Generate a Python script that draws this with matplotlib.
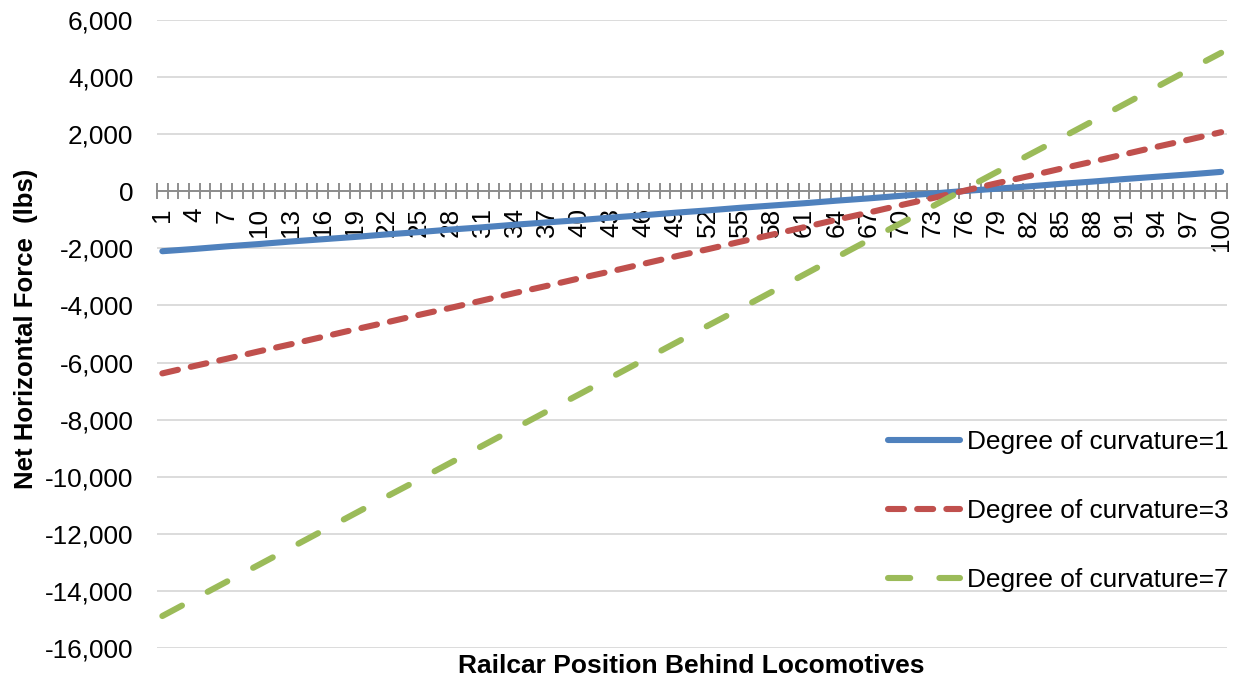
import numpy as np
import matplotlib.pyplot as plt
from matplotlib.ticker import FuncFormatter

plt.rcParams['font.family'] = ['Liberation Sans', 'DejaVu Sans']
plt.rcParams['lines.scale_dashes'] = False

# railcar positions read at every labelled category (1, 4, 7, ... 100)
positions = [1, 4, 7, 10, 13, 16, 19, 22, 25, 28, 31, 34, 37, 40, 43, 46, 49,
             52, 55, 58, 61, 64, 67, 70, 73, 76, 79, 82, 85, 88, 91, 94, 97, 100]
curv1 = [-2100, -2020, -1930, -1850, -1760, -1680, -1600, -1510, -1430, -1340,
         -1260, -1170, -1090, -1010, -920, -840, -750, -670, -580, -500,
         -420, -330, -250, -160, -80, 10, 90, 170, 260, 340, 430, 510, 590, 680]
curv3 = [-6380, -6120, -5870, -5610, -5360, -5100, -4840, -4590, -4330, -4080,
         -3820, -3560, -3310, -3050, -2800, -2540, -2280, -2030, -1770, -1520,
         -1260, -1000, -750, -490, -240, 20, 280, 530, 790, 1040, 1300, 1560,
         1810, 2070]
curv7 = [-14880, -14280, -13680, -13090, -12490, -11890, -11290, -10690, -10100,
         -9500, -8900, -8300, -7700, -7110, -6510, -5910, -5310, -4710, -4120,
         -3520, -2920, -2320, -1720, -1130, -530, 70, 670, 1270, 1860, 2460,
         3060, 3660, 4260, 4850]
n_cars = 100

fig = plt.figure(figsize=(12.44, 6.81), dpi=100)
ax = fig.add_axes([157 / 1244, 1 - 648 / 681, 1069.5 / 1244, 628 / 681])

ax.plot(positions, curv1, color='#4F81BD', lw=4.4, solid_capstyle='round',
        label='Degree of curvature=1', zorder=3)
ax.plot(positions, curv3, color='#C0504D', lw=4.4, dash_capstyle='round',
        dashes=(11.5, 9.5), label='Degree of curvature=3', zorder=3)
ax.plot(positions, curv7, color='#9BBB59', lw=4.4, dash_capstyle='round',
        dashes=(16, 21), label='Degree of curvature=7', zorder=3)

ax.set_xlim(0.5, n_cars + 0.5)
ax.set_ylim(-16000, 6000)
ax.set_yticks(np.arange(-16000, 6001, 2000))
ax.yaxis.set_major_formatter(FuncFormatter(lambda v, p: f"{v:,.0f}"))
ax.grid(axis='y', color='#d9d9d9', lw=1.3)
ax.set_axisbelow(True)

for s in ['top', 'right', 'left']:
    ax.spines[s].set_visible(False)
ax.spines['bottom'].set_position(('data', 0))
ax.spines['bottom'].set_color('#868686')
ax.spines['bottom'].set_linewidth(1.3)

ax.set_xticks(positions)
ax.set_xticklabels([str(p) for p in positions], rotation=90)
ax.set_xticks(np.arange(0.5, n_cars + 1, 1), minor=True)
ax.tick_params(axis='x', which='major', length=0, pad=12, labelsize=18.8)
ax.tick_params(axis='x', which='minor', length=11, direction='inout',
               color='#868686', width=1.3)
ax.tick_params(axis='y', length=0, pad=17, labelsize=18.8)

ax.set_ylabel('Net Horizontal Force  (lbs)', fontsize=18.5, fontweight='bold')
ax.yaxis.set_label_coords(-0.111, 0.508)
ax.set_xlabel('Railcar Position Behind Locomotives', fontsize=19, fontweight='bold')
ax.xaxis.set_label_coords(0.5, -0.01)

fig.legend(loc='center left', bbox_to_anchor=(888 / 1244, 1 - 511 / 681),
           frameon=False, fontsize=18.9, handlelength=2.75, handletextpad=0.25,
           labelspacing=1.72, borderpad=0, borderaxespad=0)

fig.savefig('out.png', dpi=100)
